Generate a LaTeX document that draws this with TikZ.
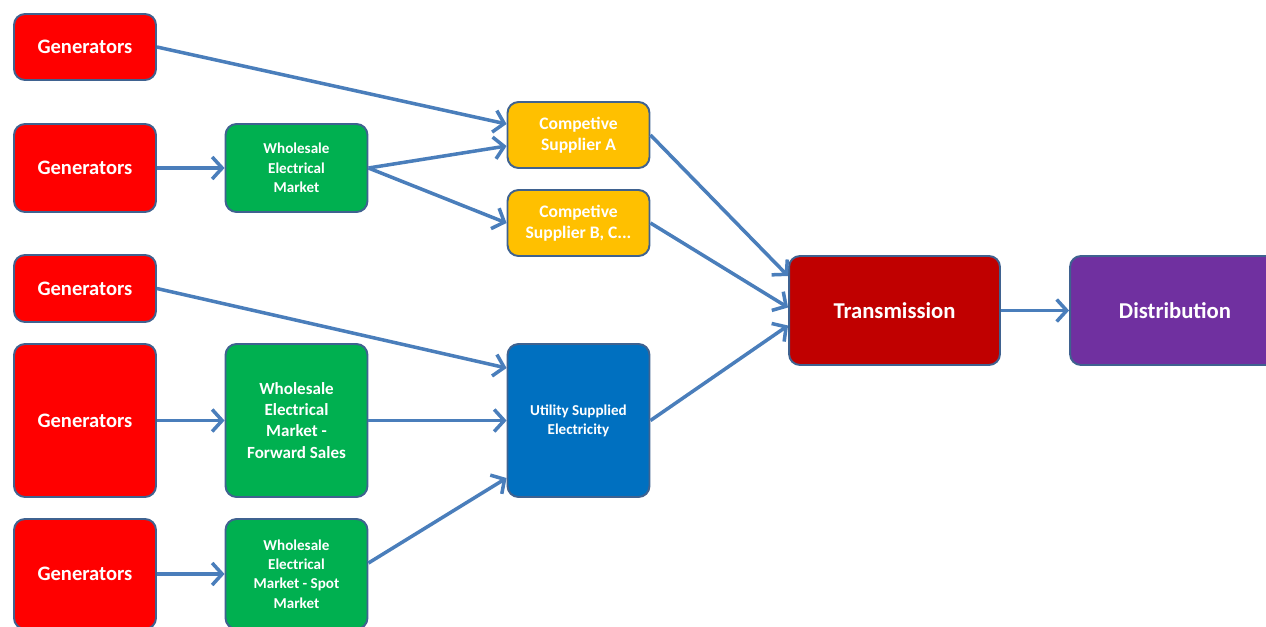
\documentclass[tikz,border=0pt]{standalone}
\usepackage{fontspec}
\setmainfont{Carlito}
\usepackage{xcolor}
\usepackage{tikz}
\usetikzlibrary{arrows.meta}
\definecolor{genred}{HTML}{FF0000}
\definecolor{marketgreen}{HTML}{00B050}
\definecolor{supplieryellow}{HTML}{FFC000}
\definecolor{utilityblue}{HTML}{0070C0}
\definecolor{transred}{HTML}{C00000}
\definecolor{distpurple}{HTML}{7030A0}
\definecolor{boxedge}{HTML}{3F6290}
\definecolor{flowblue}{HTML}{4A7EBB}
\tikzstyle{box} = [draw=boxedge,line width=1.1pt,rounded corners=0.22cm,text=white,align=center,inner sep=0pt,minimum width=2.84cm]
\tikzstyle{generator} = [box,fill=genred,font=\fontsize{11.7}{14}\selectfont\bfseries]
\tikzstyle{market} = [box,fill=marketgreen,font=\fontsize{8.6}{11}\selectfont\bfseries]
\tikzstyle{supplier} = [box,fill=supplieryellow,minimum height=1.32cm,font=\fontsize{10}{12}\selectfont\bfseries]
\tikzstyle{arrow} = [draw=flowblue,line width=2pt,-{Straight Barb[length=0.2cm,width=0.44cm]}]

\begin{document}
\begin{tikzpicture}[x=0.02cm,y=-0.02cm]
    \useasboundingbox (0,0) rectangle (1266,626);
    % generators
    \node[generator,minimum height=1.32cm] (gen1) at (85,47) {Generators};
    \node[generator,minimum height=1.76cm] (gen2) at (85,168) {Generators};
    \node[generator,minimum height=1.34cm] (gen3) at (85,288.5) {Generators};
    \node[generator,minimum height=3.06cm] (gen4) at (85,420.5) {Generators};
    \node[generator,minimum height=2.2cm] (gen5) at (85,574) {Generators};
    % markets
    \node[market,minimum height=1.76cm] (wem1) at (296.5,168) {Wholesale\\Electrical\\Market};
    \node[market,minimum height=3.06cm,font=\fontsize{9.7}{12}\selectfont\bfseries] (wem2) at (296.5,420.5) {Wholesale\\Electrical\\Market -\\Forward Sales};
    \node[market,minimum height=2.2cm] (wem3) at (296.5,574) {Wholesale\\Electrical\\Market - Spot\\Market};
    % suppliers
    \node[supplier] (csa) at (578.5,135) {Competive\\Supplier A};
    \node[supplier] (csb) at (578.5,223) {Competive\\Supplier B, C...};
    \node[box,fill=utilityblue,minimum height=3.06cm,font=\fontsize{8.6}{10.8}\selectfont\bfseries] (util) at (578.5,420.5) {Utility Supplied\\Electricity};
    % grid
    \node[box,fill=transred,minimum width=4.22cm,minimum height=2.18cm,font=\fontsize{12.9}{15}\selectfont\bfseries] (trans) at (894.5,310.5) {Transmission};
    \node[box,fill=distpurple,minimum width=4.2cm,minimum height=2.18cm,font=\fontsize{12.9}{15}\selectfont\bfseries] (dist) at (1175,310.5) {Distribution};
    % flows
    \draw[arrow] (gen1.east) -- ([yshift=0.22cm]csa.west);
    \draw[arrow] (gen2.east) -- (wem1.west);
    \draw[arrow] (wem1.east) -- ([yshift=-0.22cm]csa.west);
    \draw[arrow] (wem1.east) -- (csb.west);
    \draw[arrow] (gen3.east) -- ([yshift=1.05cm]util.west);
    \draw[arrow] (gen4.east) -- (wem2.west);
    \draw[arrow] (wem2.east) -- (util.west);
    \draw[arrow] (gen5.east) -- (wem3.west);
    \draw[arrow] ([yshift=0.22cm]wem3.east) -- ([yshift=-1.15cm]util.west);
    \draw[arrow] (csa.east) -- ([yshift=0.69cm]trans.west);
    \draw[arrow] (csb.east) -- ([yshift=0.06cm]trans.west);
    \draw[arrow] (util.east) -- ([yshift=-0.3cm]trans.west);
    \draw[arrow] (trans.east) -- (dist.west);
\end{tikzpicture}
\end{document}
